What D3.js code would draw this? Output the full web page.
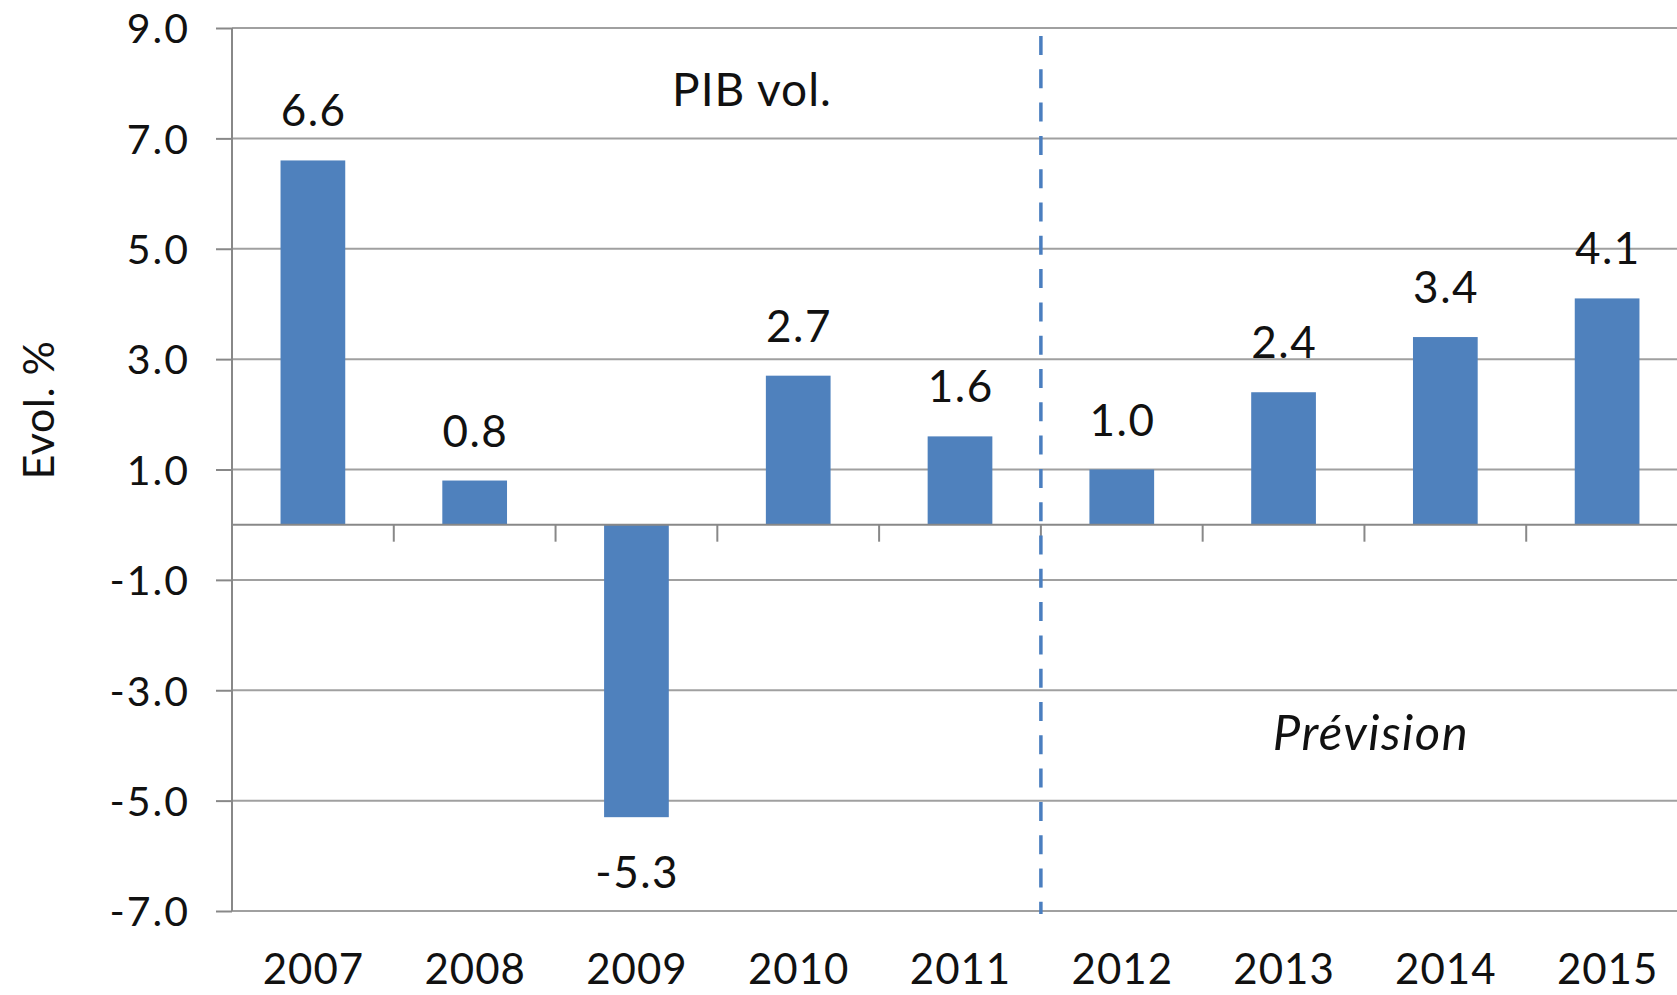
<!DOCTYPE html>
<html>
<head>
<meta charset="utf-8">
<script src="https://cdn.jsdelivr.net/npm/d3@7"></script>
<style>
  html, body { margin: 0; padding: 0; background: #fff; overflow: hidden; }
  svg { display: block; }
  text { font-family: Lato, "Open Sans", sans-serif; fill: #111; }
</style>
</head>
<body>
<svg id="chart" width="1677" height="995"></svg>
<script>
// ---- data ----
const years = ["2007", "2008", "2009", "2010", "2011", "2012", "2013", "2014", "2015"];
const values = [6.6, 0.8, -5.3, 2.7, 1.6, 1.0, 2.4, 3.4, 4.1];
const yTicks = [9, 7, 5, 3, 1, -1, -3, -5, -7];
const yTitle = "Evol. %";
const seriesLabel = "PIB vol.";
const forecastLabel = "Prévision";
const forecastStart = "2012";

// ---- layout ----
const plotLeft = 232, plotRight = 1688, plotTop = 28, plotBottom = 911;
const svg = d3.select("#chart");

const x = d3.scaleBand().domain(years).range([plotLeft, plotRight]).padding(0);
const barW = x.bandwidth() * 0.4;
const y = d3.scaleLinear().domain([-7, 9]).range([plotBottom, plotTop]);

const gridColor = "#a0a0a0";
const axisColor = "#888888";
const barColor = "#4f81bd";
const fmt = d3.format(".1f");
const lbl = d => fmt(d).replace("−", "-");

// gridlines
svg.append("g").selectAll("line").data(yTicks).join("line")
  .attr("x1", plotLeft).attr("x2", plotRight)
  .attr("y1", d => y(d)).attr("y2", d => y(d))
  .attr("stroke", gridColor).attr("stroke-width", 2);

// y axis
const yAxis = d3.axisLeft(y).tickValues(yTicks).tickSize(16).tickPadding(26)
  .tickFormat(lbl);
const gy = svg.append("g").attr("transform", `translate(${plotLeft},0)`).call(yAxis);
gy.select(".domain").attr("stroke", axisColor).attr("stroke-width", 2)
  .attr("d", `M0,${y(9)}V${y(-7)}`);
gy.selectAll(".tick line").attr("stroke", axisColor).attr("stroke-width", 2);
gy.selectAll(".tick text").attr("font-size", 41).attr("fill", "#111")
  .attr("letter-spacing", 2)
  .style("font-family", "Lato").attr("dy", "0.36em");

// bars
svg.append("g").selectAll("rect").data(values).join("rect")
  .attr("x", (d, i) => x(years[i]) + (x.bandwidth() - barW) / 2)
  .attr("width", barW)
  .attr("y", d => y(Math.max(0, d)))
  .attr("height", d => Math.abs(y(d) - y(0)))
  .attr("fill", barColor);

// category axis at zero
svg.append("line")
  .attr("x1", plotLeft).attr("x2", plotRight)
  .attr("y1", y(0)).attr("y2", y(0))
  .attr("stroke", axisColor).attr("stroke-width", 2);
const boundaries = years.map(d => x(d)).concat([x(years[years.length - 1]) + x.bandwidth()]);
svg.append("g").selectAll("line").data(boundaries).join("line")
  .attr("x1", d => d).attr("x2", d => d)
  .attr("y1", y(0)).attr("y2", y(0) + 17)
  .attr("stroke", axisColor).attr("stroke-width", 2);

// category labels at bottom
svg.append("g").selectAll("text").data(years).join("text")
  .attr("x", d => x(d) + x.bandwidth() / 2 + 0.5)
  .attr("y", 984)
  .attr("text-anchor", "middle")
  .attr("font-size", 42)
  .attr("letter-spacing", 1)
  .text(d => d);

// data labels
svg.append("g").selectAll("text").data(values).join("text")
  .attr("x", (d, i) => x(years[i]) + x.bandwidth() / 2 + 0.75)
  .attr("y", d => d >= 0 ? y(d) - 34 : y(d) + 71)
  .attr("text-anchor", "middle")
  .attr("font-size", 44)
  .attr("letter-spacing", 1.5)
  .text(lbl);

// forecast separator
const sepX = x(forecastStart);
svg.append("line")
  .attr("x1", sepX).attr("x2", sepX)
  .attr("y1", 36).attr("y2", 914)
  .attr("stroke", "#4a7ebf").attr("stroke-width", 3.5)
  .attr("stroke-dasharray", "19,14.3");

// annotations
svg.append("text")
  .attr("x", 752).attr("y", 106)
  .attr("text-anchor", "middle").attr("font-size", 46)
  .attr("letter-spacing", 1)
  .text(seriesLabel);

svg.append("text")
  .attr("x", 1371).attr("y", 750)
  .attr("text-anchor", "middle").attr("font-size", 49)
  .attr("letter-spacing", 1.5)
  .attr("font-style", "italic")
  .text(forecastLabel);

// y title
svg.append("text")
  .attr("transform", `translate(54,410) rotate(-90)`)
  .attr("text-anchor", "middle").attr("font-size", 43)
  .attr("letter-spacing", 0.5)
  .text(yTitle);
</script>
</body>
</html>
